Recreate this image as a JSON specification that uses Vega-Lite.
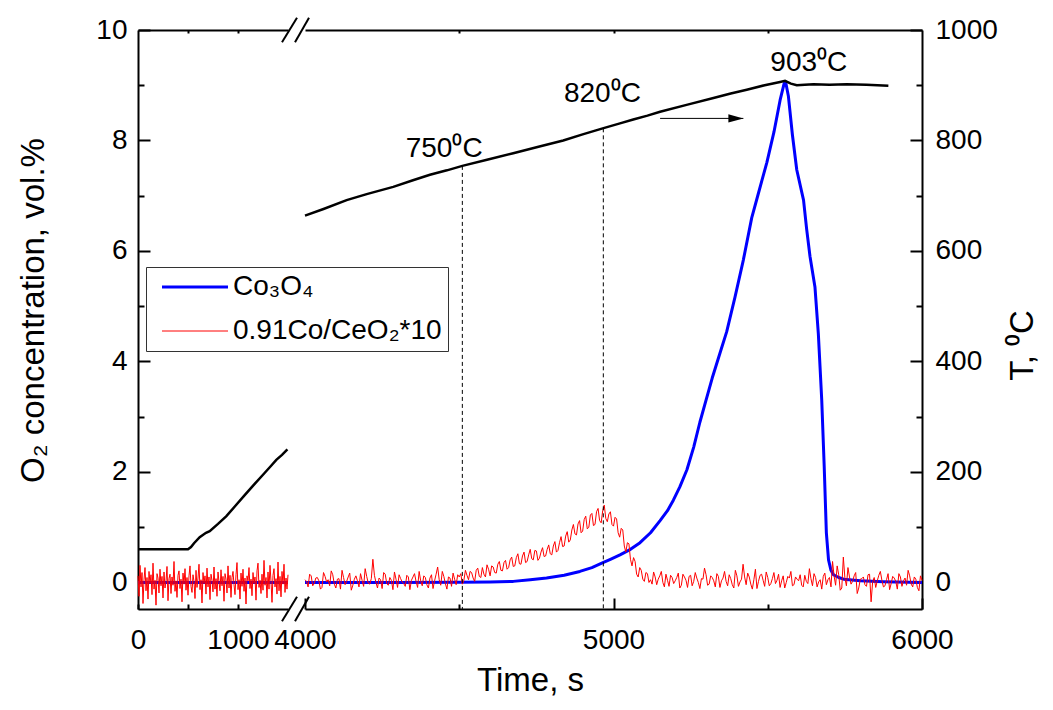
{
"$schema": "https://vega.github.io/schema/vega-lite/v6.json",
"width": 784, "height": 579,
"autosize": {"type": "none"},
"padding": {"left": 138, "top": 30, "right": 131, "bottom": 101},
"background": "white",
"config": {
 "view": {"stroke": null},
 "font": "Liberation Sans",
 "axis": {"grid": false, "labelFont": "Liberation Sans", "titleFont": "Liberation Sans", "labelFontSize": 28, "titleFontSize": 33, "labelColor": "black", "titleColor": "black", "titleFontWeight": "normal", "domainColor": "black", "tickColor": "black", "domainWidth": 2, "tickWidth": 2, "labelFlush": false, "labelOverlap": false, "labelBound": false}
},
"datasets": {
 "red": [
  {"t":0,"v":0.12,"g":"a"},{"t":10,"v":-0.25,"g":"a"},{"t":20,"v":0.31,"g":"a"},{"t":30,"v":-0.08,"g":"a"},{"t":40,"v":0.18,"g":"a"},{"t":50,"v":-0.38,"g":"a"},{"t":60,"v":0.05,"g":"a"},{"t":70,"v":0.27,"g":"a"},{"t":80,"v":-0.15,"g":"a"},{"t":90,"v":0.09,"g":"a"},
  {"t":100,"v":-0.30,"g":"a"},{"t":110,"v":0.20,"g":"a"},{"t":120,"v":-0.02,"g":"a"},{"t":130,"v":0.14,"g":"a"},{"t":140,"v":-0.22,"g":"a"},{"t":150,"v":0.35,"g":"a"},{"t":160,"v":-0.12,"g":"a"},{"t":170,"v":0.04,"g":"a"},{"t":180,"v":-0.41,"g":"a"},{"t":190,"v":0.16,"g":"a"},
  {"t":200,"v":0.08,"g":"a"},{"t":210,"v":-0.19,"g":"a"},{"t":220,"v":0.24,"g":"a"},{"t":230,"v":-0.06,"g":"a"},{"t":240,"v":0.11,"g":"a"},{"t":250,"v":-0.28,"g":"a"},{"t":260,"v":0.19,"g":"a"},{"t":270,"v":-0.10,"g":"a"},{"t":280,"v":0.02,"g":"a"},{"t":290,"v":0.29,"g":"a"},
  {"t":300,"v":-0.33,"g":"a"},{"t":310,"v":0.07,"g":"a"},{"t":320,"v":0.15,"g":"a"},{"t":330,"v":-0.20,"g":"a"},{"t":340,"v":0.10,"g":"a"},{"t":350,"v":-0.05,"g":"a"},{"t":360,"v":0.38,"g":"a"},{"t":370,"v":-0.16,"g":"a"},{"t":380,"v":0.03,"g":"a"},{"t":390,"v":-0.27,"g":"a"},
  {"t":400,"v":0.13,"g":"a"},{"t":410,"v":0.21,"g":"a"},{"t":420,"v":-0.11,"g":"a"},{"t":430,"v":0.06,"g":"a"},{"t":440,"v":-0.35,"g":"a"},{"t":450,"v":0.17,"g":"a"},{"t":460,"v":-0.03,"g":"a"},{"t":470,"v":0.25,"g":"a"},{"t":480,"v":-0.14,"g":"a"},{"t":490,"v":0.09,"g":"a"},
  {"t":500,"v":-0.23,"g":"a"},{"t":510,"v":0.12,"g":"a"},{"t":520,"v":0.30,"g":"a"},{"t":530,"v":-0.07,"g":"a"},{"t":540,"v":-0.18,"g":"a"},{"t":550,"v":0.14,"g":"a"},{"t":560,"v":0.02,"g":"a"},{"t":570,"v":-0.29,"g":"a"},{"t":580,"v":0.22,"g":"a"},{"t":590,"v":-0.09,"g":"a"},
  {"t":600,"v":0.08,"g":"a"},{"t":610,"v":0.33,"g":"a"},{"t":620,"v":-0.13,"g":"a"},{"t":630,"v":0.05,"g":"a"},{"t":640,"v":-0.37,"g":"a"},{"t":650,"v":0.18,"g":"a"},{"t":660,"v":-0.02,"g":"a"},{"t":670,"v":0.12,"g":"a"},{"t":680,"v":-0.21,"g":"a"},{"t":690,"v":0.26,"g":"a"},
  {"t":700,"v":-0.08,"g":"a"},{"t":710,"v":0.10,"g":"a"},{"t":720,"v":-0.31,"g":"a"},{"t":730,"v":0.15,"g":"a"},{"t":740,"v":0.04,"g":"a"},{"t":750,"v":-0.17,"g":"a"},{"t":760,"v":0.28,"g":"a"},{"t":770,"v":-0.12,"g":"a"},{"t":780,"v":0.07,"g":"a"},{"t":790,"v":-0.25,"g":"a"},
  {"t":800,"v":0.19,"g":"a"},{"t":810,"v":0.01,"g":"a"},{"t":820,"v":-0.15,"g":"a"},{"t":830,"v":0.23,"g":"a"},{"t":840,"v":-0.06,"g":"a"},{"t":850,"v":0.11,"g":"a"},{"t":860,"v":-0.34,"g":"a"},{"t":870,"v":0.16,"g":"a"},{"t":880,"v":0.06,"g":"a"},{"t":890,"v":-0.19,"g":"a"},
  {"t":900,"v":0.30,"g":"a"},{"t":910,"v":-0.10,"g":"a"},{"t":920,"v":0.13,"g":"a"},{"t":930,"v":-0.27,"g":"a"},{"t":940,"v":0.09,"g":"a"},{"t":950,"v":0.20,"g":"a"},{"t":960,"v":-0.04,"g":"a"},{"t":970,"v":-0.22,"g":"a"},{"t":980,"v":0.14,"g":"a"},{"t":990,"v":0.36,"g":"a"},
  {"t":1000,"v":-0.13,"g":"a"},{"t":1010,"v":0.05,"g":"a"},{"t":1020,"v":-0.30,"g":"a"},{"t":1030,"v":0.17,"g":"a"},{"t":1040,"v":-0.07,"g":"a"},{"t":1050,"v":0.24,"g":"a"},{"t":1060,"v":-0.16,"g":"a"},{"t":1070,"v":0.08,"g":"a"},{"t":1080,"v":-0.39,"g":"a"},{"t":1090,"v":0.12,"g":"a"},
  {"t":1100,"v":0.03,"g":"a"},{"t":1110,"v":0.27,"g":"a"},{"t":1120,"v":-0.11,"g":"a"},{"t":1130,"v":0.06,"g":"a"},{"t":1140,"v":-0.24,"g":"a"},{"t":1150,"v":0.18,"g":"a"},{"t":1160,"v":-0.02,"g":"a"},{"t":1170,"v":0.10,"g":"a"},{"t":1180,"v":-0.32,"g":"a"},{"t":1190,"v":0.21,"g":"a"},
  {"t":1200,"v":0.35,"g":"a"},{"t":1210,"v":-0.09,"g":"a"},{"t":1220,"v":0.04,"g":"a"},{"t":1230,"v":-0.20,"g":"a"},{"t":1240,"v":0.15,"g":"a"},{"t":1250,"v":-0.14,"g":"a"},{"t":1260,"v":0.40,"g":"a"},{"t":1270,"v":-0.05,"g":"a"},{"t":1280,"v":0.09,"g":"a"},{"t":1290,"v":-0.28,"g":"a"},
  {"t":1300,"v":0.19,"g":"a"},{"t":1310,"v":-0.12,"g":"a"},{"t":1320,"v":0.31,"g":"a"},{"t":1330,"v":0.02,"g":"a"},{"t":1340,"v":-0.36,"g":"a"},{"t":1350,"v":0.13,"g":"a"},{"t":1360,"v":0.25,"g":"a"},{"t":1370,"v":-0.08,"g":"a"},{"t":1380,"v":0.07,"g":"a"},{"t":1390,"v":-0.21,"g":"a"},
  {"t":1400,"v":0.37,"g":"a"},{"t":1410,"v":-0.15,"g":"a"},{"t":1420,"v":0.11,"g":"a"},{"t":1430,"v":-0.26,"g":"a"},{"t":1440,"v":0.20,"g":"a"},{"t":1450,"v":-0.03,"g":"a"},{"t":1460,"v":0.33,"g":"a"},{"t":1470,"v":-0.18,"g":"a"},{"t":1480,"v":0.08,"g":"a"},{"t":1490,"v":-0.12,"g":"a"},{"t":1500,"v":0.14,"g":"a"},
  {"t":4000,"v":0.05,"g":"b"},{"t":4010,"v":-0.08,"g":"b"},{"t":4020,"v":0.12,"g":"b"},{"t":4030,"v":-0.02,"g":"b"},{"t":4040,"v":0.09,"g":"b"},{"t":4050,"v":-0.12,"g":"b"},{"t":4060,"v":0.18,"g":"b"},{"t":4070,"v":0.01,"g":"b"},{"t":4080,"v":-0.06,"g":"b"},{"t":4090,"v":0.14,"g":"b"},
  {"t":4100,"v":-0.10,"g":"b"},{"t":4110,"v":0.07,"g":"b"},{"t":4120,"v":0.22,"g":"b"},{"t":4130,"v":-0.04,"g":"b"},{"t":4140,"v":0.10,"g":"b"},{"t":4150,"v":-0.14,"g":"b"},{"t":4160,"v":0.06,"g":"b"},{"t":4170,"v":0.03,"g":"b"},{"t":4180,"v":0.16,"g":"b"},{"t":4190,"v":-0.07,"g":"b"},
  {"t":4200,"v":0.11,"g":"b"},{"t":4210,"v":-0.03,"g":"b"},{"t":4220,"v":0.42,"g":"b"},{"t":4230,"v":0.00,"g":"b"},{"t":4240,"v":0.08,"g":"b"},{"t":4250,"v":-0.11,"g":"b"},{"t":4260,"v":0.15,"g":"b"},{"t":4270,"v":-0.05,"g":"b"},{"t":4280,"v":0.04,"g":"b"},{"t":4290,"v":0.19,"g":"b"},
  {"t":4300,"v":-0.09,"g":"b"},{"t":4310,"v":0.07,"g":"b"},{"t":4320,"v":-0.02,"g":"b"},{"t":4330,"v":0.13,"g":"b"},{"t":4340,"v":-0.13,"g":"b"},{"t":4350,"v":0.10,"g":"b"},{"t":4360,"v":0.02,"g":"b"},{"t":4370,"v":0.20,"g":"b"},{"t":4380,"v":-0.06,"g":"b"},{"t":4390,"v":0.09,"g":"b"},
  {"t":4400,"v":-0.10,"g":"b"},{"t":4410,"v":0.14,"g":"b"},{"t":4420,"v":0.03,"g":"b"},{"t":4430,"v":0.28,"g":"b"},{"t":4440,"v":-0.05,"g":"b"},{"t":4450,"v":0.11,"g":"b"},{"t":4460,"v":-0.12,"g":"b"},{"t":4470,"v":0.08,"g":"b"},{"t":4480,"v":0.17,"g":"b"},{"t":4490,"v":-0.04,"g":"b"},
  {"t":4500,"v":0.10,"g":"b"},{"t":4510,"v":-0.03,"g":"b"},{"t":4520,"v":0.22,"g":"b"},{"t":4530,"v":0.05,"g":"b"},{"t":4540,"v":0.18,"g":"b"},{"t":4550,"v":0.02,"g":"b"},{"t":4560,"v":0.26,"g":"b"},{"t":4570,"v":0.09,"g":"b"},{"t":4580,"v":0.15,"g":"b"},{"t":4590,"v":0.32,"g":"b"},
  {"t":4600,"v":0.12,"g":"b"},{"t":4610,"v":0.28,"g":"b"},{"t":4620,"v":0.17,"g":"b"},{"t":4630,"v":0.38,"g":"b"},{"t":4640,"v":0.21,"g":"b"},{"t":4650,"v":0.40,"g":"b"},{"t":4660,"v":0.27,"g":"b"},{"t":4670,"v":0.46,"g":"b"},{"t":4680,"v":0.30,"g":"b"},{"t":4690,"v":0.52,"g":"b"},
  {"t":4700,"v":0.33,"g":"b"},{"t":4710,"v":0.55,"g":"b"},{"t":4720,"v":0.38,"g":"b"},{"t":4730,"v":0.60,"g":"b"},{"t":4740,"v":0.41,"g":"b"},{"t":4750,"v":0.57,"g":"b"},{"t":4760,"v":0.44,"g":"b"},{"t":4770,"v":0.63,"g":"b"},{"t":4780,"v":0.48,"g":"b"},{"t":4790,"v":0.68,"g":"b"},
  {"t":4800,"v":0.50,"g":"b"},{"t":4810,"v":0.74,"g":"b"},{"t":4820,"v":0.58,"g":"b"},{"t":4830,"v":0.83,"g":"b"},{"t":4840,"v":0.66,"g":"b"},{"t":4850,"v":0.92,"g":"b"},{"t":4860,"v":0.77,"g":"b"},{"t":4870,"v":1.05,"g":"b"},{"t":4880,"v":0.86,"g":"b"},{"t":4890,"v":1.12,"g":"b"},
  {"t":4900,"v":0.93,"g":"b"},{"t":4910,"v":1.20,"g":"b"},{"t":4920,"v":1.00,"g":"b"},{"t":4930,"v":1.25,"g":"b"},{"t":4940,"v":1.05,"g":"b"},{"t":4950,"v":1.34,"g":"b"},{"t":4960,"v":1.08,"g":"b"},{"t":4970,"v":1.40,"g":"b"},{"t":4980,"v":1.10,"g":"b"},{"t":4990,"v":1.28,"g":"b"},
  {"t":5000,"v":1.02,"g":"b"},{"t":5010,"v":1.15,"g":"b"},{"t":5020,"v":0.82,"g":"b"},{"t":5030,"v":0.95,"g":"b"},{"t":5040,"v":0.55,"g":"b"},{"t":5050,"v":0.70,"g":"b"},{"t":5060,"v":0.30,"g":"b"},{"t":5070,"v":0.38,"g":"b"},{"t":5080,"v":0.10,"g":"b"},{"t":5090,"v":0.22,"g":"b"},
  {"t":5100,"v":0.02,"g":"b"},{"t":5110,"v":0.16,"g":"b"},{"t":5120,"v":0.05,"g":"b"},{"t":5130,"v":0.19,"g":"b"},{"t":5140,"v":-0.04,"g":"b"},{"t":5150,"v":0.12,"g":"b"},{"t":5160,"v":0.00,"g":"b"},{"t":5170,"v":0.15,"g":"b"},{"t":5180,"v":-0.07,"g":"b"},{"t":5190,"v":0.09,"g":"b"},
  {"t":5200,"v":0.03,"g":"b"},{"t":5210,"v":0.17,"g":"b"},{"t":5220,"v":-0.05,"g":"b"},{"t":5230,"v":0.10,"g":"b"},{"t":5240,"v":-0.09,"g":"b"},{"t":5250,"v":0.13,"g":"b"},{"t":5260,"v":0.02,"g":"b"},{"t":5270,"v":0.08,"g":"b"},{"t":5280,"v":-0.11,"g":"b"},{"t":5290,"v":0.06,"g":"b"},
  {"t":5300,"v":0.14,"g":"b"},{"t":5310,"v":-0.03,"g":"b"},{"t":5320,"v":0.09,"g":"b"},{"t":5330,"v":-0.08,"g":"b"},{"t":5340,"v":0.11,"g":"b"},{"t":5350,"v":0.03,"g":"b"},{"t":5360,"v":0.20,"g":"b"},{"t":5370,"v":-0.06,"g":"b"},{"t":5380,"v":0.07,"g":"b"},{"t":5390,"v":-0.10,"g":"b"},
  {"t":5400,"v":0.12,"g":"b"},{"t":5410,"v":0.01,"g":"b"},{"t":5420,"v":0.33,"g":"b"},{"t":5430,"v":-0.04,"g":"b"},{"t":5440,"v":0.10,"g":"b"},{"t":5450,"v":-0.12,"g":"b"},{"t":5460,"v":0.24,"g":"b"},{"t":5470,"v":0.02,"g":"b"},{"t":5480,"v":0.15,"g":"b"},{"t":5490,"v":-0.07,"g":"b"},
  {"t":5500,"v":0.09,"g":"b"},{"t":5510,"v":-0.02,"g":"b"},{"t":5520,"v":0.18,"g":"b"},{"t":5530,"v":0.04,"g":"b"},{"t":5540,"v":-0.09,"g":"b"},{"t":5550,"v":0.12,"g":"b"},{"t":5560,"v":0.00,"g":"b"},{"t":5570,"v":0.08,"g":"b"},{"t":5580,"v":-0.06,"g":"b"},{"t":5590,"v":0.10,"g":"b"},
  {"t":5600,"v":0.03,"g":"b"},{"t":5610,"v":-0.05,"g":"b"},{"t":5620,"v":0.13,"g":"b"},{"t":5630,"v":-0.02,"g":"b"},{"t":5640,"v":0.07,"g":"b"},{"t":5650,"v":0.16,"g":"b"},{"t":5660,"v":-0.08,"g":"b"},{"t":5670,"v":0.05,"g":"b"},{"t":5680,"v":0.11,"g":"b"},{"t":5690,"v":-0.04,"g":"b"},
  {"t":5700,"v":0.09,"g":"b"},{"t":5710,"v":0.38,"g":"b"},{"t":5720,"v":-0.05,"g":"b"},{"t":5730,"v":0.14,"g":"b"},{"t":5740,"v":-0.10,"g":"b"},{"t":5750,"v":0.08,"g":"b"},{"t":5760,"v":0.27,"g":"b"},{"t":5770,"v":-0.03,"g":"b"},{"t":5780,"v":0.12,"g":"b"},{"t":5790,"v":-0.20,"g":"b"},
  {"t":5800,"v":0.06,"g":"b"},{"t":5810,"v":0.10,"g":"b"},{"t":5820,"v":-0.07,"g":"b"},{"t":5830,"v":0.15,"g":"b"},{"t":5840,"v":0.01,"g":"b"},{"t":5850,"v":-0.09,"g":"b"},{"t":5860,"v":0.13,"g":"b"},{"t":5870,"v":0.04,"g":"b"},{"t":5880,"v":-0.06,"g":"b"},{"t":5890,"v":0.16,"g":"b"},
  {"t":5900,"v":-0.02,"g":"b"},{"t":5910,"v":0.08,"g":"b"},{"t":5920,"v":-0.12,"g":"b"},{"t":5930,"v":0.10,"g":"b"},{"t":5940,"v":0.03,"g":"b"},{"t":5950,"v":-0.05,"g":"b"},{"t":5960,"v":0.12,"g":"b"},{"t":5970,"v":-0.08,"g":"b"},{"t":5980,"v":0.06,"g":"b"},{"t":5990,"v":-0.15,"g":"b"},{"t":6000,"v":0.04,"g":"b"},
  {"t":4005,"v":0.02,"g":"b"},{"t":4015,"v":0.15,"g":"b"},{"t":4025,"v":-0.06,"g":"b"},{"t":4035,"v":0.08,"g":"b"},{"t":4045,"v":0.03,"g":"b"},{"t":4055,"v":-0.09,"g":"b"},{"t":4065,"v":0.11,"g":"b"},{"t":4075,"v":0.05,"g":"b"},{"t":4085,"v":0.21,"g":"b"},{"t":4095,"v":-0.03,"g":"b"},
  {"t":4105,"v":0.06,"g":"b"},{"t":4115,"v":-0.12,"g":"b"},{"t":4125,"v":0.09,"g":"b"},{"t":4135,"v":0.02,"g":"b"},{"t":4145,"v":0.17,"g":"b"},{"t":4155,"v":-0.05,"g":"b"},{"t":4165,"v":0.12,"g":"b"},{"t":4175,"v":-0.08,"g":"b"},{"t":4185,"v":0.04,"g":"b"},{"t":4195,"v":0.25,"g":"b"},
  {"t":4205,"v":-0.01,"g":"b"},{"t":4215,"v":0.07,"g":"b"},{"t":4225,"v":0.13,"g":"b"},{"t":4235,"v":-0.10,"g":"b"},{"t":4245,"v":0.05,"g":"b"},{"t":4255,"v":0.18,"g":"b"},{"t":4265,"v":-0.02,"g":"b"},{"t":4275,"v":0.09,"g":"b"},{"t":4285,"v":-0.13,"g":"b"},{"t":4295,"v":0.06,"g":"b"},
  {"t":4305,"v":0.14,"g":"b"},{"t":4315,"v":0.01,"g":"b"},{"t":4325,"v":-0.07,"g":"b"},{"t":4335,"v":0.10,"g":"b"},{"t":4345,"v":0.04,"g":"b"},{"t":4355,"v":0.16,"g":"b"},{"t":4365,"v":-0.09,"g":"b"},{"t":4375,"v":0.03,"g":"b"},{"t":4385,"v":0.12,"g":"b"},{"t":4395,"v":-0.04,"g":"b"},
  {"t":4405,"v":0.08,"g":"b"},{"t":4415,"v":-0.11,"g":"b"},{"t":4425,"v":0.15,"g":"b"},{"t":4435,"v":0.05,"g":"b"},{"t":4445,"v":0.20,"g":"b"},{"t":4455,"v":-0.02,"g":"b"},{"t":4465,"v":0.10,"g":"b"},{"t":4475,"v":-0.07,"g":"b"},{"t":4485,"v":0.06,"g":"b"},{"t":4495,"v":0.14,"g":"b"},
  {"t":4505,"v":0.16,"g":"b"},{"t":4515,"v":0.04,"g":"b"},{"t":4525,"v":0.13,"g":"b"},{"t":4535,"v":0.20,"g":"b"},{"t":4545,"v":0.08,"g":"b"},{"t":4555,"v":0.22,"g":"b"},{"t":4565,"v":0.11,"g":"b"},{"t":4575,"v":0.27,"g":"b"},{"t":4585,"v":0.10,"g":"b"},{"t":4595,"v":0.24,"g":"b"},
  {"t":4605,"v":0.30,"g":"b"},{"t":4615,"v":0.18,"g":"b"},{"t":4625,"v":0.33,"g":"b"},{"t":4635,"v":0.22,"g":"b"},{"t":4645,"v":0.36,"g":"b"},{"t":4655,"v":0.24,"g":"b"},{"t":4665,"v":0.41,"g":"b"},{"t":4675,"v":0.29,"g":"b"},{"t":4685,"v":0.45,"g":"b"},{"t":4695,"v":0.34,"g":"b"},
  {"t":4705,"v":0.48,"g":"b"},{"t":4715,"v":0.36,"g":"b"},{"t":4725,"v":0.50,"g":"b"},{"t":4735,"v":0.43,"g":"b"},{"t":4745,"v":0.58,"g":"b"},{"t":4755,"v":0.40,"g":"b"},{"t":4765,"v":0.55,"g":"b"},{"t":4775,"v":0.47,"g":"b"},{"t":4785,"v":0.60,"g":"b"},{"t":4795,"v":0.52,"g":"b"},
  {"t":4805,"v":0.66,"g":"b"},{"t":4815,"v":0.55,"g":"b"},{"t":4825,"v":0.72,"g":"b"},{"t":4835,"v":0.65,"g":"b"},{"t":4845,"v":0.84,"g":"b"},{"t":4855,"v":0.73,"g":"b"},{"t":4865,"v":0.95,"g":"b"},{"t":4875,"v":0.88,"g":"b"},{"t":4885,"v":1.06,"g":"b"},{"t":4895,"v":0.90,"g":"b"},
  {"t":4905,"v":1.14,"g":"b"},{"t":4915,"v":0.97,"g":"b"},{"t":4925,"v":1.22,"g":"b"},{"t":4935,"v":1.03,"g":"b"},{"t":4945,"v":1.28,"g":"b"},{"t":4955,"v":1.12,"g":"b"},{"t":4965,"v":1.30,"g":"b"},{"t":4975,"v":1.16,"g":"b"},{"t":4985,"v":1.24,"g":"b"},{"t":4995,"v":1.05,"g":"b"},
  {"t":5005,"v":1.18,"g":"b"},{"t":5015,"v":0.90,"g":"b"},{"t":5025,"v":0.98,"g":"b"},{"t":5035,"v":0.66,"g":"b"},{"t":5045,"v":0.72,"g":"b"},{"t":5055,"v":0.42,"g":"b"},{"t":5065,"v":0.45,"g":"b"},{"t":5075,"v":0.15,"g":"b"},{"t":5085,"v":0.27,"g":"b"},{"t":5095,"v":0.06,"g":"b"},
  {"t":5105,"v":0.18,"g":"b"},{"t":5115,"v":0.00,"g":"b"},{"t":5125,"v":-0.03,"g":"b"},{"t":5135,"v":0.10,"g":"b"},{"t":5145,"v":0.06,"g":"b"},{"t":5155,"v":0.20,"g":"b"},{"t":5165,"v":-0.08,"g":"b"},{"t":5175,"v":0.04,"g":"b"},{"t":5185,"v":0.13,"g":"b"},{"t":5195,"v":-0.02,"g":"b"},
  {"t":5205,"v":0.09,"g":"b"},{"t":5215,"v":-0.10,"g":"b"},{"t":5225,"v":0.15,"g":"b"},{"t":5235,"v":0.04,"g":"b"},{"t":5245,"v":0.11,"g":"b"},{"t":5255,"v":-0.06,"g":"b"},{"t":5265,"v":0.18,"g":"b"},{"t":5275,"v":0.00,"g":"b"},{"t":5285,"v":0.07,"g":"b"},{"t":5295,"v":0.26,"g":"b"},
  {"t":5305,"v":-0.05,"g":"b"},{"t":5315,"v":0.12,"g":"b"},{"t":5325,"v":0.03,"g":"b"},{"t":5335,"v":0.16,"g":"b"},{"t":5345,"v":-0.09,"g":"b"},{"t":5355,"v":0.08,"g":"b"},{"t":5365,"v":0.02,"g":"b"},{"t":5375,"v":0.14,"g":"b"},{"t":5385,"v":-0.04,"g":"b"},{"t":5395,"v":0.22,"g":"b"},
  {"t":5405,"v":-0.07,"g":"b"},{"t":5415,"v":0.06,"g":"b"},{"t":5425,"v":0.10,"g":"b"},{"t":5435,"v":0.17,"g":"b"},{"t":5445,"v":-0.03,"g":"b"},{"t":5455,"v":0.05,"g":"b"},{"t":5465,"v":-0.11,"g":"b"},{"t":5475,"v":0.13,"g":"b"},{"t":5485,"v":0.04,"g":"b"},{"t":5495,"v":0.19,"g":"b"},
  {"t":5505,"v":-0.06,"g":"b"},{"t":5515,"v":0.07,"g":"b"},{"t":5525,"v":-0.02,"g":"b"},{"t":5535,"v":0.15,"g":"b"},{"t":5545,"v":0.03,"g":"b"},{"t":5555,"v":-0.10,"g":"b"},{"t":5565,"v":0.11,"g":"b"},{"t":5575,"v":0.20,"g":"b"},{"t":5585,"v":-0.04,"g":"b"},{"t":5595,"v":0.06,"g":"b"},
  {"t":5605,"v":0.14,"g":"b"},{"t":5615,"v":-0.08,"g":"b"},{"t":5625,"v":0.02,"g":"b"},{"t":5635,"v":0.25,"g":"b"},{"t":5645,"v":-0.06,"g":"b"},{"t":5655,"v":0.09,"g":"b"},{"t":5665,"v":0.01,"g":"b"},{"t":5675,"v":-0.12,"g":"b"},{"t":5685,"v":0.17,"g":"b"},{"t":5695,"v":0.05,"g":"b"},
  {"t":5705,"v":-0.08,"g":"b"},{"t":5715,"v":0.12,"g":"b"},{"t":5725,"v":0.30,"g":"b"},{"t":5735,"v":-0.14,"g":"b"},{"t":5745,"v":0.46,"g":"b"},{"t":5755,"v":-0.06,"g":"b"},{"t":5765,"v":0.10,"g":"b"},{"t":5775,"v":0.02,"g":"b"},{"t":5785,"v":0.18,"g":"b"},{"t":5795,"v":-0.10,"g":"b"},
  {"t":5805,"v":0.07,"g":"b"},{"t":5815,"v":-0.04,"g":"b"},{"t":5825,"v":0.14,"g":"b"},{"t":5835,"v":-0.35,"g":"b"},{"t":5845,"v":0.09,"g":"b"},{"t":5855,"v":0.03,"g":"b"},{"t":5865,"v":0.20,"g":"b"},{"t":5875,"v":-0.08,"g":"b"},{"t":5885,"v":0.05,"g":"b"},{"t":5895,"v":-0.13,"g":"b"},
  {"t":5905,"v":0.11,"g":"b"},{"t":5915,"v":0.02,"g":"b"},{"t":5925,"v":0.16,"g":"b"},{"t":5935,"v":-0.07,"g":"b"},{"t":5945,"v":0.08,"g":"b"},{"t":5955,"v":0.22,"g":"b"},{"t":5965,"v":-0.03,"g":"b"},{"t":5975,"v":0.10,"g":"b"},{"t":5985,"v":-0.09,"g":"b"},{"t":5995,"v":0.12,"g":"b"}
 ],
 "blue": [
  {"t":0,"v":0,"g":"a"},{"t":1500,"v":0,"g":"a"},
  {"t":4000,"v":0,"g":"b"},{"t":4300,"v":0,"g":"b"},{"t":4500,"v":0.005,"g":"b"},{"t":4600,"v":0.01,"g":"b"},{"t":4675,"v":0.02,"g":"b"},{"t":4730,"v":0.05,"g":"b"},{"t":4783,"v":0.08,"g":"b"},{"t":4840,"v":0.13,"g":"b"},{"t":4891,"v":0.2,"g":"b"},{"t":4930,"v":0.27,"g":"b"},{"t":4962,"v":0.35,"g":"b"},{"t":4990,"v":0.42,"g":"b"},{"t":5021,"v":0.5,"g":"b"},{"t":5055,"v":0.6,"g":"b"},{"t":5086,"v":0.72,"g":"b"},{"t":5120,"v":0.9,"g":"b"},{"t":5151,"v":1.12,"g":"b"},{"t":5175,"v":1.3,"g":"b"},{"t":5194,"v":1.49,"g":"b"},{"t":5215,"v":1.73,"g":"b"},{"t":5238,"v":2.04,"g":"b"},{"t":5260,"v":2.45,"g":"b"},{"t":5280,"v":2.9,"g":"b"},{"t":5300,"v":3.3,"g":"b"},{"t":5320,"v":3.7,"g":"b"},{"t":5345,"v":4.15,"g":"b"},{"t":5367,"v":4.54,"g":"b"},{"t":5394,"v":5.17,"g":"b"},{"t":5421,"v":5.84,"g":"b"},{"t":5448,"v":6.6,"g":"b"},{"t":5470,"v":7.05,"g":"b"},{"t":5497,"v":7.6,"g":"b"},{"t":5520,"v":8.15,"g":"b"},{"t":5540,"v":8.73,"g":"b"},{"t":5553,"v":9.03,"g":"b"},{"t":5558,"v":9.06,"g":"b"},{"t":5567,"v":8.8,"g":"b"},{"t":5580,"v":8.1,"g":"b"},{"t":5594,"v":7.47,"g":"b"},{"t":5616,"v":6.92,"g":"b"},{"t":5626,"v":6.4,"g":"b"},{"t":5637,"v":5.9,"g":"b"},{"t":5653,"v":5.35,"g":"b"},{"t":5664,"v":4.5,"g":"b"},{"t":5675,"v":3.3,"g":"b"},{"t":5683,"v":2.1,"g":"b"},{"t":5690,"v":0.9,"g":"b"},{"t":5697,"v":0.41,"g":"b"},{"t":5705,"v":0.22,"g":"b"},{"t":5713,"v":0.14,"g":"b"},{"t":5730,"v":0.09,"g":"b"},{"t":5746,"v":0.06,"g":"b"},{"t":5800,"v":0.03,"g":"b"},{"t":5874,"v":0.015,"g":"b"},{"t":6000,"v":0,"g":"b"}
 ],
 "temp": [
  {"t":0,"T":60,"g":"a"},{"t":250,"T":60,"g":"a"},{"t":500,"T":60,"g":"a"},{"t":530,"T":64,"g":"a"},{"t":560,"T":71,"g":"a"},{"t":617,"T":82,"g":"a"},{"t":680,"T":90,"g":"a"},{"t":717,"T":93,"g":"a"},{"t":800,"T":106,"g":"a"},{"t":884,"T":120,"g":"a"},{"t":970,"T":138,"g":"a"},{"t":1067,"T":158,"g":"a"},{"t":1160,"T":177,"g":"a"},{"t":1250,"T":195,"g":"a"},{"t":1320,"T":209,"g":"a"},{"t":1383,"T":222,"g":"a"},{"t":1440,"T":231,"g":"a"},{"t":1494,"T":241,"g":"a"},
  {"t":4000,"T":664,"g":"b"},{"t":4060,"T":676,"g":"b"},{"t":4135,"T":692,"g":"b"},{"t":4200,"T":703,"g":"b"},{"t":4286,"T":716,"g":"b"},{"t":4350,"T":728,"g":"b"},{"t":4405,"T":738,"g":"b"},{"t":4460,"T":746,"g":"b"},{"t":4510,"T":754,"g":"b"},{"t":4590,"T":765,"g":"b"},{"t":4675,"T":777,"g":"b"},{"t":4760,"T":789,"g":"b"},{"t":4837,"T":800,"g":"b"},{"t":4900,"T":811,"g":"b"},{"t":4965,"T":822,"g":"b"},{"t":5021,"T":831,"g":"b"},{"t":5064,"T":838,"g":"b"},{"t":5110,"T":845,"g":"b"},{"t":5151,"T":852,"g":"b"},{"t":5240,"T":865,"g":"b"},{"t":5324,"T":877,"g":"b"},{"t":5380,"T":885,"g":"b"},{"t":5432,"T":892,"g":"b"},{"t":5490,"T":900,"g":"b"},{"t":5540,"T":906,"g":"b"},{"t":5556,"T":908,"g":"b"},{"t":5575,"T":903,"g":"b"},{"t":5594,"T":900,"g":"b"},{"t":5620,"T":901,"g":"b"},{"t":5648,"T":902,"g":"b"},{"t":5700,"T":901,"g":"b"},{"t":5756,"T":902,"g":"b"},{"t":5820,"T":901,"g":"b"},{"t":5891,"T":899,"g":"b"}
 ],
 "slashes": [
  {"x1":1440,"x2":2824,"y1":-0.70,"y2":-0.26},
  {"x1":2529,"x2":4013,"y1":-0.70,"y2":-0.26},
  {"x1":1440,"x2":2824,"y1":9.78,"y2":10.22},
  {"x1":2529,"x2":4013,"y1":9.78,"y2":10.22}
 ],
 "marks": [
  {"t":4510,"T":754},{"t":4967,"T":822}
 ],
 "arrow": [
  {"t":5151,"t2":5421,"T":840}
 ],
 "notes": [
  {"t":4451,"T":771,"label":"750⁰C"},
  {"t":4964,"T":870,"label":"820⁰C"},
  {"t":5633,"T":926,"label":"903⁰C"}
 ]
},
"layer": [
 {
  "data": {"name": "blue"},
  "mark": {"type": "line", "strokeJoin": "round"},
  "encoding": {
   "x": {"field": "t", "type": "quantitative", "scale": {"type": "linear", "domain": [0, 1500, 4000, 6000], "range": [0, 150, 167, 784], "nice": false, "zero": false},
    "axis": {"orient": "bottom", "title": "Time, s", "values": [0, 500, 1000, 4000, 4500, 5000, 5500, 6000], "labelExpr": "datum.value % 1000 == 0 ? format(datum.value, 'd') : ''",
     "tickSize": {"condition": {"test": "datum.value >= 4000 && datum.value % 1000 == 0", "value": -11}, "value": -5},
     "labelPadding": {"condition": {"test": "datum.value >= 4000 && datum.value % 1000 == 0", "value": 28}, "value": 22},
     "domainDash": [150, 17, 617, 0], "titlePadding": 10}},
   "y": {"field": "v", "type": "quantitative", "scale": {"type": "linear", "domain": [-0.48, 10], "nice": false, "zero": false},
    "axis": {"orient": "left", "title": "O₂ concentration, vol.%", "titleY": 280, "values": [0,1,2,3,4,5,6,7,8,9,10], "labelExpr": "datum.value % 2 == 0 ? datum.label : ''",
     "tickSize": {"condition": {"test": "datum.value % 2 == 1", "value": -6}, "value": -12}, "labelPadding": 23, "titlePadding": 45}},
   "detail": {"field": "g"},
   "color": {"datum": "Co₃O₄", "type": "nominal", "scale": {"domain": ["Co₃O₄", "0.91Co/CeO₂*10"], "range": ["#0000ff", "#ff0000"]},
    "legend": {"title": null, "orient": "none", "legendX": 8, "legendY": 237, "symbolType": "M0,0H13.2", "symbolSize": 100, "symbolOffset": -4, "labelFontSize": 28, "labelFont": "Liberation Sans", "labelColor": "black", "labelOffset": 57, "labelLimit": 400, "padding": 6, "strokeColor": "#333333", "fillColor": "white", "rowPadding": 16}},
   "strokeWidth": {"datum": "Co₃O₄", "type": "ordinal", "scale": {"domain": ["Co₃O₄", "0.91Co/CeO₂*10"], "range": [3, 1]},
    "legend": {"title": null, "orient": "none", "legendX": 8, "legendY": 237, "symbolType": "M0,0H13.2", "symbolSize": 100, "symbolOffset": -4, "labelFontSize": 28, "labelFont": "Liberation Sans", "labelColor": "black", "labelOffset": 57, "labelLimit": 400, "padding": 6, "strokeColor": "#333333", "fillColor": "white", "rowPadding": 16}}
  }
 },
 {
  "data": {"name": "red"},
  "mark": {"type": "line"},
  "encoding": {
   "x": {"field": "t", "type": "quantitative", "scale": {"type": "linear", "domain": [0, 1500, 4000, 6000], "range": [0, 150, 167, 784], "nice": false, "zero": false}, "axis": null},
   "y": {"field": "v", "type": "quantitative", "scale": {"type": "linear", "domain": [-0.48, 10], "nice": false, "zero": false}, "axis": null},
   "detail": {"field": "g"},
   "color": {"datum": "0.91Co/CeO₂*10", "type": "nominal"},
   "strokeWidth": {"datum": "0.91Co/CeO₂*10", "type": "ordinal"}
  }
 },
 {
  "data": {"name": "temp"},
  "mark": {"type": "line", "color": "black", "strokeWidth": 2.5},
  "encoding": {
   "x": {"field": "t", "type": "quantitative", "scale": {"type": "linear", "domain": [0, 1500, 4000, 6000], "range": [0, 150, 167, 784], "nice": false, "zero": false},
    "axis": {"orient": "top", "title": null, "labels": false, "values": [500, 1000, 4500, 5000, 5500], "tickSize": -3, "domainDash": [150, 17, 617, 0]}},
   "y": {"field": "T", "type": "quantitative", "scale": {"type": "linear", "domain": [-48, 1000], "nice": false, "zero": false},
    "axis": {"orient": "right", "title": "T, ⁰C", "titleAngle": 270, "titleBaseline": "top", "titleY": 315, "values": [0,100,200,300,400,500,600,700,800,900,1000], "labelExpr": "datum.value % 200 == 0 ? format(datum.value, 'd') : ''",
     "tickSize": {"condition": {"test": "datum.value % 200 == 100", "value": -6}, "value": -12}, "labelPadding": 25, "titlePadding": 9}},
   "detail": {"field": "g"}
  }
 },
 {
  "data": {"name": "slashes"},
  "mark": {"type": "rule", "color": "black", "strokeWidth": 2},
  "encoding": {
   "x": {"field": "x1", "type": "quantitative", "scale": {"type": "linear", "domain": [0, 1500, 4000, 6000], "range": [0, 150, 167, 784], "nice": false, "zero": false}, "axis": null},
   "x2": {"field": "x2"},
   "y": {"field": "y1", "type": "quantitative", "scale": {"type": "linear", "domain": [-0.48, 10], "nice": false, "zero": false}, "axis": null},
   "y2": {"field": "y2"}
  }
 },
 {
  "data": {"name": "marks"},
  "mark": {"type": "rule", "color": "black", "strokeWidth": 1, "strokeDash": [4, 3]},
  "encoding": {
   "x": {"field": "t", "type": "quantitative", "scale": {"type": "linear", "domain": [0, 1500, 4000, 6000], "range": [0, 150, 167, 784], "nice": false, "zero": false}, "axis": null},
   "y": {"field": "T", "type": "quantitative", "scale": {"type": "linear", "domain": [-48, 1000], "nice": false, "zero": false}, "axis": null},
   "y2": {"datum": -48}
  }
 },
 {
  "data": {"name": "arrow"},
  "mark": {"type": "rule", "color": "black", "strokeWidth": 1},
  "encoding": {
   "x": {"field": "t", "type": "quantitative", "scale": {"type": "linear", "domain": [0, 1500, 4000, 6000], "range": [0, 150, 167, 784], "nice": false, "zero": false}, "axis": null},
   "x2": {"field": "t2"},
   "y": {"field": "T", "type": "quantitative", "scale": {"type": "linear", "domain": [-48, 1000], "nice": false, "zero": false}, "axis": null}
  }
 },
 {
  "data": {"name": "arrow"},
  "mark": {"type": "point", "shape": "M0,0L-2,-0.55L-2,0.55Z", "size": 225, "filled": true, "color": "black", "opacity": 1},
  "encoding": {
   "x": {"field": "t2", "type": "quantitative", "scale": {"type": "linear", "domain": [0, 1500, 4000, 6000], "range": [0, 150, 167, 784], "nice": false, "zero": false}, "axis": null},
   "y": {"field": "T", "type": "quantitative", "scale": {"type": "linear", "domain": [-48, 1000], "nice": false, "zero": false}, "axis": null}
  }
 },
 {
  "data": {"name": "notes"},
  "mark": {"type": "text", "font": "Liberation Sans", "fontSize": 28, "color": "black", "align": "center", "baseline": "alphabetic"},
  "encoding": {
   "x": {"field": "t", "type": "quantitative", "scale": {"type": "linear", "domain": [0, 1500, 4000, 6000], "range": [0, 150, 167, 784], "nice": false, "zero": false}, "axis": null},
   "y": {"field": "T", "type": "quantitative", "scale": {"type": "linear", "domain": [-48, 1000], "nice": false, "zero": false}, "axis": null},
   "text": {"field": "label"}
  }
 }
],
"resolve": {"scale": {"x": "independent", "y": "independent"}, "axis": {"x": "independent", "y": "independent"}}
}
